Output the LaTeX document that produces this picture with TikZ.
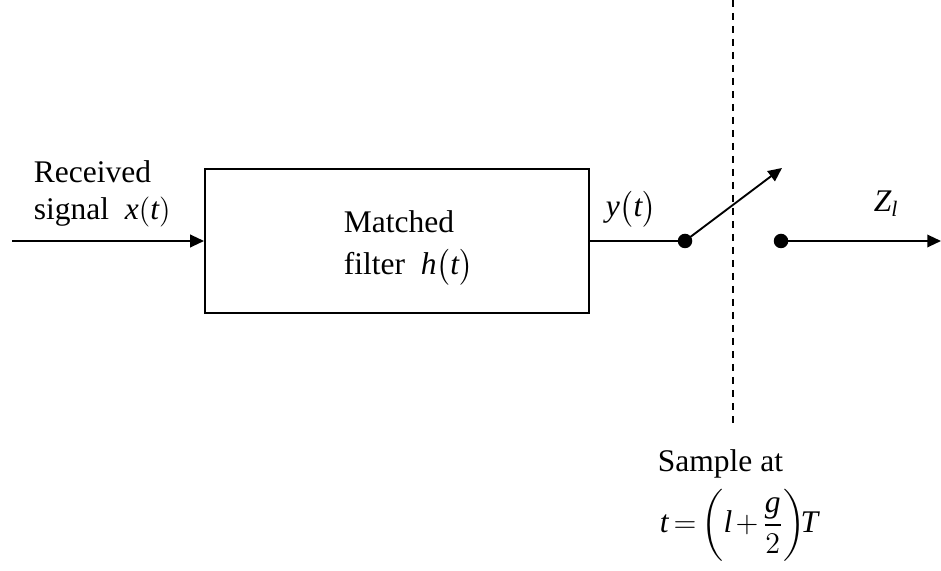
\documentclass[tikz,border=0pt,12pt]{standalone}
\usepackage{amsmath}
\usepackage{fontspec}
\setmainfont{Liberation Serif}
\usetikzlibrary{arrows.meta}
\newcommand\vi[1]{\text{\itshape #1}}
\begin{document}
\begin{tikzpicture}[x=0.4pt,y=-0.4pt,
  line width=0.75pt,
  arr/.style={-{Triangle[length=5.5pt,width=5pt]}},
  blk/.style={draw,line width=0.8pt,minimum width=153.6pt,minimum height=57.6pt,inner sep=0pt},
  dot/.style={circle,fill,inner sep=0pt,minimum size=5.8pt},
  lbl/.style={anchor=base west,inner sep=0pt,font=\fontsize{12.6}{14.4}\selectfont},
  sampleline/.style={dash pattern=on 2.8pt off 2.4pt,line width=0.8pt}]
\useasboundingbox (0,0) rectangle (941,571);
% block
\node[blk] (box) at (397,241) {};
\node[lbl] (mat) at (343,233) {Matched};
\node[lbl] (fil) at (343,275) {filter\ \ $\vi{h}\bigl(\vi{t}\bigr)$};
% input
\coordinate (in) at (12,241);
\draw[arr] (in) -- (box.west);
\node[lbl] (rcv) at (33,183) {Received};
\node[lbl] (sig) at (33,220) {signal\ \ $\vi{x}(\vi{t})$};
% output and switch
\node[dot] (d1) at (685,241) {};
\node[dot] (d2) at (781,241) {};
\coordinate (sw) at (782,168);
\coordinate (out) at (941,241);
\draw (box.east) -- (d1.center);
\draw[arr] (d1.center) -- (sw);
\draw[arr] (d2.center) -- (out);
\node[lbl] (yl) at (605,217) {$\vi{y}\bigl(\vi{t}\bigr)$};
\node[lbl] (zl) at (873,212) {$\vi{Z}_{\vi{l}}$};
% sampling line
\coordinate (dtop) at (733,0);
\coordinate (dbot) at (733,425);
\draw[sampleline] (dtop) -- (dbot);
\node[lbl] (smp) at (657,472) {Sample at};
\node[anchor=west,inner sep=0pt,font=\fontsize{12.6}{14.4}\selectfont] (eq) at (659,525)
  {$\vi{t}\mskip3mu{=}\mskip3mu\biggl(\vi{l}\mskip2mu{+}\mskip2mu\dfrac{\vi{g}}{2}\biggr)\!\vi{T}$};
\end{tikzpicture}
\end{document}
